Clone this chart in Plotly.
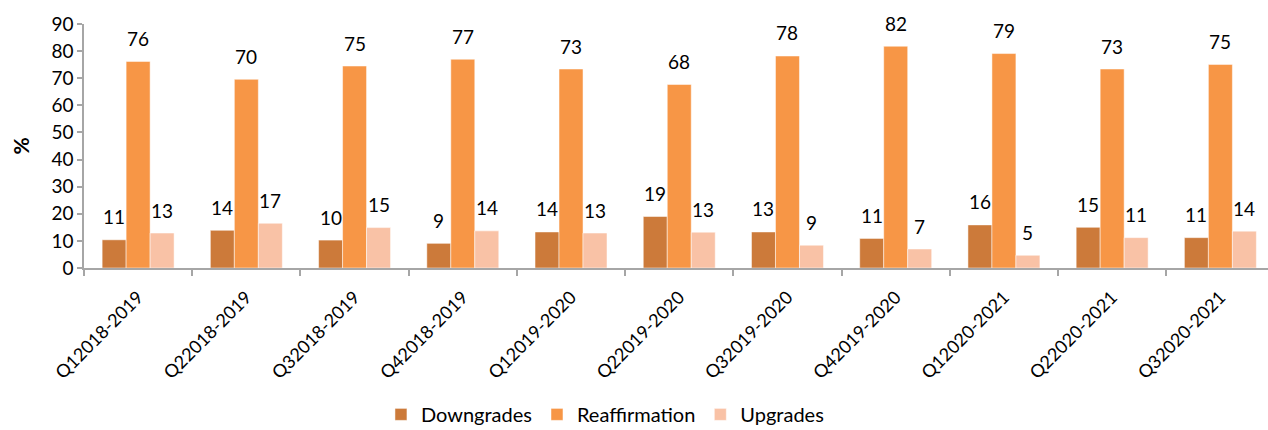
import plotly.graph_objects as go

categories = ["Q12018-2019", "Q22018-2019", "Q32018-2019", "Q42018-2019",
              "Q12019-2020", "Q22019-2020", "Q32019-2020", "Q42019-2020",
              "Q12020-2021", "Q22020-2021", "Q32020-2021"]
downgrades = [10.4, 13.9, 10.3, 9.1, 13.3, 19.0, 13.3, 10.9, 15.9, 15.0, 11.2]
reaffirmation = [76.2, 69.6, 74.5, 77.0, 73.4, 67.7, 78.2, 81.8, 79.1, 73.4, 75.1]
upgrades = [12.9, 16.5, 14.9, 13.7, 12.9, 13.2, 8.4, 7.0, 4.7, 11.2, 13.6]
downgrades_labels = ["11", "14", "10", "9", "14", "19", "13", "11", "16", "15", "11"]
reaffirmation_labels = ["76", "70", "75", "77", "73", "68", "78", "82", "79", "73", "75"]
upgrades_labels = ["13", "17", "15", "14", "13", "13", "9", "7", "5", "11", "14"]

series = [
    ("Downgrades", downgrades, downgrades_labels, "#CC7A3A"),
    ("Reaffirmation", reaffirmation, reaffirmation_labels, "#F79646"),
    ("Upgrades", upgrades, upgrades_labels, "#F9C2A6"),
]

FONT = "Lato"
fig = go.Figure()
annotations = []
bar_px = 24
for j, (name, vals, labels, color) in enumerate(series):
    fig.add_trace(go.Bar(
        x=categories, y=vals, name=name,
        marker=dict(color=color, line=dict(color="white", width=0.5)),
        hoverinfo="skip",
    ))
    for c, v, t in zip(categories, vals, labels):
        annotations.append(dict(
            x=c, y=v, text=t, showarrow=False, xref="x", yref="y",
            xshift=(j - 1) * bar_px, yshift=23, yanchor="middle",
            font=dict(family=FONT, size=19, color="#000000"),
        ))

fig.update_layout(
    width=1268, height=430,
    margin=dict(l=84, r=0, t=24, b=162, pad=0, autoexpand=False),
    paper_bgcolor="white", plot_bgcolor="white",
    barmode="group", bargap=0.335, bargroupgap=0,
    font=dict(family=FONT, size=18, color="#000000"),
    showlegend=True,
    legend=dict(orientation="h", x=0.44, xanchor="center", y=-0.52, yanchor="top",
                font=dict(family=FONT, size=20), itemwidth=30, traceorder="normal"),
    annotations=annotations,
    xaxis=dict(
        type="category", range=[-0.5, 10.44], automargin=False,
        showline=True, linecolor="#A6A6A6", linewidth=1.5,
        ticks="outside", tickson="boundaries", ticklen=6, tickcolor="#A6A6A6", tickwidth=1.5,
        tickangle=-45, tickfont=dict(family=FONT, size=18), ticklabelstandoff=10,
        showgrid=False, zeroline=False,
    ),
    yaxis=dict(
        range=[0, 90], dtick=10, tick0=0, automargin=False,
        showline=True, linecolor="#A6A6A6", linewidth=1.5,
        ticks="outside", ticklen=5, tickcolor="#A6A6A6", tickwidth=1.5,
        tickfont=dict(family=FONT, size=19),
        showgrid=False, zeroline=False,
        title=dict(text="<b>%</b>", font=dict(family=FONT, size=21), standoff=16),
    ),
)

fig.write_html("out.html")
